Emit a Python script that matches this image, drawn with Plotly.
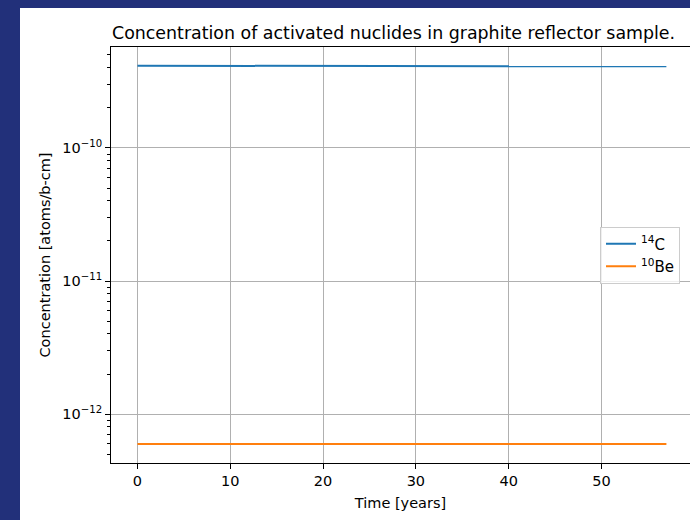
import plotly.graph_objects as go

# time points [years] and concentrations [atoms/b-cm]
years = [0, 10, 20, 30, 40, 50, 57]
c14 = [4.15e-10, 4.143e-10, 4.136e-10, 4.129e-10, 4.122e-10, 4.115e-10, 4.11e-10]
be10 = [5.95e-13, 5.95e-13, 5.95e-13, 5.95e-13, 5.95e-13, 5.95e-13, 5.95e-13]

series_names = ["<sup>14</sup>C", "<sup>10</sup>Be"]
series_colors = ["#1f77b4", "#ff7f0e"]

x_ticks = [0, 10, 20, 30, 40, 50]
y_ticks = [1e-12, 1e-11, 1e-10]
y_ticklabels = ["10<sup>\u221212</sup>", "10<sup>\u221211</sup>", "10<sup>\u221210</sup>"]
y_minor = [k * 10.0 ** e for e in range(-13, -9) for k in range(2, 10)]

FONT = "DejaVu Sans, Verdana, sans-serif"
FRAME = "#22307a"
# the figure sits inside a dark frame: 20px on the left, 8px on top
OFF_X, OFF_Y = 20, 8
W, H = 690 - OFF_X, 520 - OFF_Y
L, R, T, B = 111 - OFF_X, 0, 47 - OFF_Y, 57
PW, PH = W - L - R, H - T - B


def px_x(p):
    # page pixel -> paper x
    return (p - OFF_X - L) / PW


fig = go.Figure()
for name, vals, color in zip(series_names, [c14, be10], series_colors):
    fig.add_trace(go.Scatter(x=years, y=vals, mode="lines", name=name,
                             line={"color": color, "width": 2}))

fig.update_layout(
    width=W, height=H,
    margin={"l": L, "r": R, "t": T, "b": B, "pad": 0},
    paper_bgcolor="white", plot_bgcolor="white",
    font={"family": FONT, "size": 14.5, "color": "black"},
    title={"text": "Concentration of activated nuclides in graphite reflector sample.",
           "xref": "paper", "x": px_x(112), "xanchor": "left",
           "yref": "container", "y": 1 - (33 - OFF_Y) / H, "yanchor": "middle",
           "font": {"size": 17.4, "family": FONT, "color": "black"}},
    legend={"x": px_x(600), "xanchor": "left", "y": 0.5, "yanchor": "middle",
            "bgcolor": "rgba(255,255,255,0.8)", "bordercolor": "#cccccc", "borderwidth": 1,
            "font": {"size": 15, "family": FONT}},
    showlegend=True,
)
fig.update_xaxes(
    range=[-2.85, -2.85 + PW / 9.28],
    tickvals=x_ticks, ticks="outside", ticklen=5, tickcolor="black",
    showgrid=True, gridcolor="#b0b0b0", gridwidth=1,
    showline=True, linecolor="black", linewidth=1, mirror=True,
    zeroline=False,
    title={"text": "Time [years]", "font": {"size": 14.5}, "standoff": 9},
)
fig.update_yaxes(
    type="log", range=[-12.368, -9.241],
    tickvals=y_ticks, ticktext=y_ticklabels,
    ticks="outside", ticklen=5, tickcolor="black",
    minor={"tickmode": "array", "tickvals": y_minor, "ticks": "outside",
           "ticklen": 3, "tickcolor": "black", "showgrid": False},
    showgrid=True, gridcolor="#b0b0b0", gridwidth=1,
    showline=True, linecolor="black", linewidth=1, mirror=False,
    zeroline=False,
    title={"text": "Concentration [atoms/b-cm]", "font": {"size": 14.5}, "standoff": 8},
)

page_css = (
    "document.body.style.margin='0';"
    f"document.body.style.padding='{OFF_Y}px 0 0 {OFF_X}px';"
    f"document.body.style.background='{FRAME}';"
    "document.body.style.overflow='hidden';"
)
fig.write_html("out.html", post_script=page_css, config={"displayModeBar": False})
